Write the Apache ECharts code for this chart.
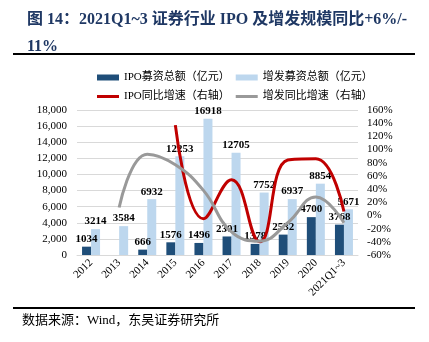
<!DOCTYPE html>
<html><head><meta charset="utf-8">
<script src="https://cdn.jsdelivr.net/npm/echarts@6/dist/echarts.min.js"></script>
<style>html,body{margin:0;padding:0;background:#fff}#c{width:429px;height:342px}</style>
</head><body><div id="c"></div>
<script>
const categories = ['2012','2013','2014','2015','2016','2017','2018','2019','2020','2021Q1~3'];
const ipoAmount = [1034, null, 666, 1576, 1496, 2301, 1378, 2532, 4700, 3768];
const spoAmount = [3214, 3584, 6932, 12253, 16918, 12705, 7752, 6937, 8854, 5671];
const ipoGrowth = [null, null, null, 137, -5, 54, -40, 84, 86, 6];
const spoGrowth = [null, 12, 93, 77, 38, -25, -39, -11, 28, -11];
const leftTicks = {min: 0, max: 18000, interval: 2000};
const rightTicks = {min: -60, max: 160, interval: 20};

const serif = '"Liberation Serif", "Noto Sans CJK SC", serif';
const chart = echarts.init(document.getElementById('c'));
const lbl = {show: true, position: 'top', distance: 2, color: '#000', fontFamily: serif, fontWeight: 'bold', fontSize: 11};
chart.setOption({
  animation: false,
  title: {
    text: '图 14：2021Q1~3 证券行业 IPO 及增发规模同比+6%/-\n11%',
    left: 22, top: 1,
    textStyle: {fontFamily: serif, fontWeight: 'bold', fontSize: 16, color: '#1f3864', lineHeight: 27}
  },
  graphic: [
    {type: 'line', shape: {x1: 13, y1: 54, x2: 415, y2: 54}, style: {stroke: '#000', lineWidth: 2}},
    {type: 'line', shape: {x1: 13, y1: 308, x2: 415, y2: 308}, style: {stroke: '#000', lineWidth: 2}},
    {type: 'text', left: 22, top: 314, style: {text: '数据来源：Wind，东吴证券研究所', font: '13px ' + serif, fill: '#000'}}
  ],
  legend: [
    {left: 92, top: 67, itemWidth: 22, itemHeight: 6, itemGap: 6, icon: 'rect', data: ['IPO募资总额（亿元）', '增发募资总额（亿元）'],
     textStyle: {fontSize: 11, color: '#000', fontFamily: serif}},
    {left: 92, top: 86, itemWidth: 22, itemHeight: 3, itemGap: 6, icon: 'rect', data: ['IPO同比增速（右轴）', '增发同比增速（右轴）'],
     textStyle: {fontSize: 11, color: '#000', fontFamily: serif}}
  ],
  grid: {left: 77, right: 71, top: 110, bottom: 87},
  xAxis: {
    type: 'category', data: categories,
    axisLine: {lineStyle: {color: '#d9d9d9'}}, axisTick: {show: false},
    axisLabel: {rotate: 45, color: '#000', fontFamily: serif, fontSize: 11, margin: 6}
  },
  yAxis: [
    {type: 'value', min: leftTicks.min, max: leftTicks.max, interval: leftTicks.interval,
     axisLabel: {color: '#000', fontFamily: serif, fontSize: 11, margin: 10, formatter: v => v.toLocaleString('en-US')},
     splitLine: {lineStyle: {color: '#d9d9d9'}}, axisLine: {show: false}, axisTick: {show: false}},
    {type: 'value', min: rightTicks.min, max: rightTicks.max, interval: rightTicks.interval,
     axisLabel: {color: '#000', fontFamily: serif, fontSize: 11, margin: 9, formatter: '{value}%'},
     splitLine: {show: false}, axisLine: {show: false}, axisTick: {show: false}}
  ],
  series: [
    {name: 'IPO募资总额（亿元）', type: 'bar', data: ipoAmount, barWidth: 9, barGap: '0%',
     itemStyle: {color: '#1f4e79'}, label: lbl},
    {name: '增发募资总额（亿元）', type: 'bar', data: spoAmount, barWidth: 9,
     itemStyle: {color: '#bdd7ee'}, label: lbl},
    {name: 'IPO同比增速（右轴）', type: 'line', yAxisIndex: 1, data: ipoGrowth, smooth: 0.45, symbol: 'none',
     lineStyle: {color: '#c00000', width: 3}, itemStyle: {color: '#c00000'}},
    {name: '增发同比增速（右轴）', type: 'line', yAxisIndex: 1, data: spoGrowth, smooth: 0.45, symbol: 'none',
     lineStyle: {color: '#999999', width: 3}, itemStyle: {color: '#999999'}}
  ]
});
</script></body></html>
